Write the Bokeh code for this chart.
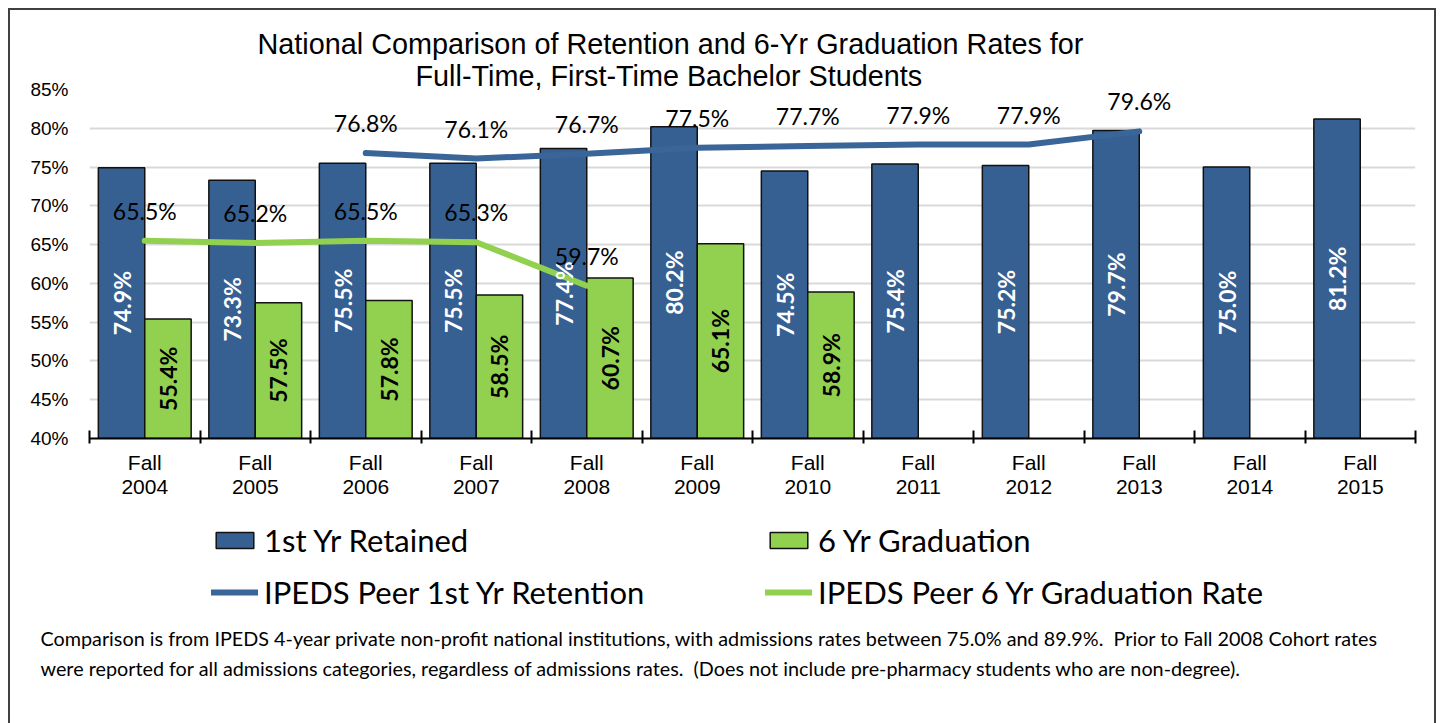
import numpy as np
from bokeh.plotting import figure
from bokeh.layouts import column
from bokeh.models import (Range1d, FixedTicker, PrintfTickFormatter, Title,
                          Legend, LegendItem)
from bokeh.core.properties import value
from bokeh.embed import file_html
from bokeh.resources import INLINE

# ---------------- data ----------------
years = ["2004", "2005", "2006", "2007", "2008", "2009", "2010",
         "2011", "2012", "2013", "2014", "2015"]
retained = [74.9, 73.3, 75.5, 75.5, 77.4, 80.2, 74.5, 75.4, 75.2, 79.7, 75.0, 81.2]
grad_years = ["2004", "2005", "2006", "2007", "2008", "2009", "2010"]
graduation = [55.4, 57.5, 57.8, 58.5, 60.7, 65.1, 58.9]
peer_ret_years = ["2006", "2007", "2008", "2009", "2010", "2011", "2012", "2013"]
peer_retention = [76.8, 76.1, 76.7, 77.5, 77.7, 77.9, 77.9, 79.6]
peer_grad_years = ["2004", "2005", "2006", "2007", "2008"]
peer_graduation = [65.5, 65.2, 65.5, 65.3, 59.7]
y_ticks = [40, 45, 50, 55, 60, 65, 70, 75, 80, 85]

series_names = ["1st Yr Retained", "6 Yr Graduation",
                "IPEDS Peer 1st Yr Retention", "IPEDS Peer 6 Yr Graduation Rate"]
title_lines = ["National Comparison of Retention and 6-Yr Graduation Rates for",
               "Full-Time, First-Time Bachelor Students"]
note_lines = ["Comparison is from IPEDS 4-year private non-profit national institutions, with admissions rates between 75.0% and 89.9%.\u00a0 Prior to Fall 2008 Cohort rates",
              "were reported for all admissions categories, regardless of admissions rates.\u00a0 (Does not include pre-pharmacy students who are non-degree)."]

BLUE = "#376092"
BLUE_LINE = "#3a6598"
GREEN = "#92d050"
EDGE = "#111111"
BASE = 40
W = 1424

bar_style_ret = dict(fill_color=BLUE, line_color=EDGE, line_width=1.5)
bar_style_grad = dict(fill_color=GREEN, line_color=EDGE, line_width=1.5)
line_style_ret = dict(line_color=BLUE_LINE, line_width=6, line_cap="round", line_join="round")
line_style_grad = dict(line_color=GREEN, line_width=6, line_cap="round", line_join="round")

# ---------------- positions from category index ----------------
idx = {y: i for i, y in enumerate(years)}
center = {y: i + 0.5 for y, i in idx.items()}
bw = 0.42
ret_x = [center[y] - bw / 2 for y in years]
grad_x = [center[y] + bw / 2 for y in grad_years]
pr_x = [center[y] for y in peer_ret_years]
pg_x = [center[y] for y in peer_grad_years]

# ================= main chart =================
p = figure(width=W, height=510, x_range=Range1d(0, len(years)),
           y_range=Range1d(BASE, 85), output_backend="svg",
           toolbar_location=None, title=None,
           min_border_left=79, min_border_right=19,
           min_border_top=79, min_border_bottom=82)
p.outline_line_color = None
p.background_fill_color = "white"
p.border_fill_color = "white"

p.xgrid.visible = False
p.ygrid.ticker = FixedTicker(ticks=y_ticks)
p.ygrid.grid_line_color = "#d9d9d9"
p.ygrid.grid_line_width = 2

r_ret = p.vbar(x=ret_x, top=retained, bottom=BASE, width=bw, **bar_style_ret)
r_grad = p.vbar(x=grad_x, top=graduation, bottom=BASE, width=bw, **bar_style_grad)
l_ret = p.line(pr_x, peer_retention, **line_style_ret)
l_grad = p.line(pg_x, peer_graduation, **line_style_grad)

p.text(x=ret_x, y=[(BASE + v) / 2 for v in retained],
       text=[f"{v:.1f}%" for v in retained], angle=np.pi / 2,
       text_align="center", text_baseline="middle", text_color="white",
       text_font=value("Lato"), text_font_style="bold", text_font_size="23px")
p.text(x=grad_x, y=[(BASE + v) / 2 for v in graduation],
       text=[f"{v:.1f}%" for v in graduation], angle=np.pi / 2,
       text_align="center", text_baseline="middle", text_color="black",
       text_font=value("Lato"), text_font_style="bold", text_font_size="23px")

p.text(x=pr_x, y=peer_retention, text=[f"{v:.1f}%" for v in peer_retention],
       y_offset=-30, text_align="center", text_baseline="middle",
       text_color="black", text_font=value("Lato"), text_font_size="23px")
p.text(x=pg_x, y=peer_graduation, text=[f"{v:.1f}%" for v in peer_graduation],
       y_offset=-30, text_align="center", text_baseline="middle",
       text_color="black", text_font=value("Lato"), text_font_size="23px")

xa = p.xaxis[0]
xa.ticker = FixedTicker(ticks=[center[y] for y in years],
                        minor_ticks=list(range(len(years) + 1)))
xa.major_label_overrides = {center[y]: f"Fall\n{y}" for y in years}
xa.major_tick_in = 0
xa.major_tick_out = 0
xa.minor_tick_in = 8
xa.minor_tick_out = 5
xa.minor_tick_line_color = "black"
xa.minor_tick_line_width = 2
xa.axis_line_color = "black"
xa.axis_line_width = 2
xa.major_label_text_font = "Liberation Sans"
xa.major_label_text_font_size = "21px"
xa.major_label_text_line_height = 1.05
xa.major_label_text_color = "black"
xa.major_label_standoff = 7

ya = p.yaxis[0]
ya.ticker = FixedTicker(ticks=y_ticks)
ya.formatter = PrintfTickFormatter(format="%d%%")
ya.axis_line_color = None
ya.major_tick_line_color = None
ya.minor_tick_line_color = None
ya.major_tick_out = 0
ya.major_label_text_font = "Liberation Sans"
ya.major_label_text_font_size = "19px"
ya.major_label_text_color = "black"
ya.major_label_standoff = 21

p.add_layout(Title(text=title_lines[1], align="left", offset=326, standoff=-4,
                   text_font="Liberation Sans", text_font_size="28.8px",
                   text_font_style="normal", text_color="black"), "above")
p.add_layout(Title(text=title_lines[0], align="left", offset=168, standoff=0,
                   text_font="Liberation Sans", text_font_size="28.8px",
                   text_font_style="normal", text_color="black"), "above")

# ================= legend + footnote panel =================
H2 = 203
q = figure(width=W, height=H2, x_range=Range1d(0, 1), y_range=Range1d(0, 1),
           output_backend="svg", toolbar_location=None, title=None,
           x_axis_type=None, y_axis_type=None,
           min_border_left=79, min_border_right=19,
           min_border_top=0, min_border_bottom=102)
q.outline_line_color = None
q.background_fill_color = "white"
q.border_fill_color = "white"

# undrawn legend proxies that share the styles of the chart's renderers
nan = float("nan")
k_ret = q.vbar(x=[nan], top=[nan], bottom=nan, width=0.1, **bar_style_ret)
k_grad = q.vbar(x=[nan], top=[nan], bottom=nan, width=0.1, **bar_style_grad)
k_lret = q.line(x=[nan], y=[nan], **line_style_ret)
k_lgrad = q.line(x=[nan], y=[nan], **line_style_grad)

leg_common = dict(label_text_font="Lato", label_text_font_size="31px",
                  label_text_color="black", glyph_width=47, glyph_height=20,
                  label_standoff=6, spacing=14, padding=0, margin=0,
                  border_line_color=None, background_fill_alpha=0)
leg_a = Legend(items=[LegendItem(label=series_names[0], renderers=[k_ret]),
                      LegendItem(label=series_names[2], renderers=[k_lret])],
               location=(122, 10), **leg_common)
leg_b = Legend(items=[LegendItem(label=series_names[1], renderers=[k_grad]),
                      LegendItem(label=series_names[3], renderers=[k_lgrad])],
               location=(676, 10), **leg_common)
q.add_layout(leg_a)
q.add_layout(leg_b)

for line, so in zip(note_lines, [5, 2]):
    q.add_layout(Title(text=line, align="left", offset=-49, standoff=so,
                       text_font="Lato", text_font_size="19.8px",
                       text_font_style="normal", text_color="black"), "below")

layout = column(p, q, spacing=0,
                styles={"margin-left": "8px", "margin-top": "8px",
                        "border-top": "2px solid #404040",
                        "border-left": "2px solid #404040",
                        "border-right": "2px solid #404040"})

open("out.html", "w").write(file_html(layout, INLINE))
